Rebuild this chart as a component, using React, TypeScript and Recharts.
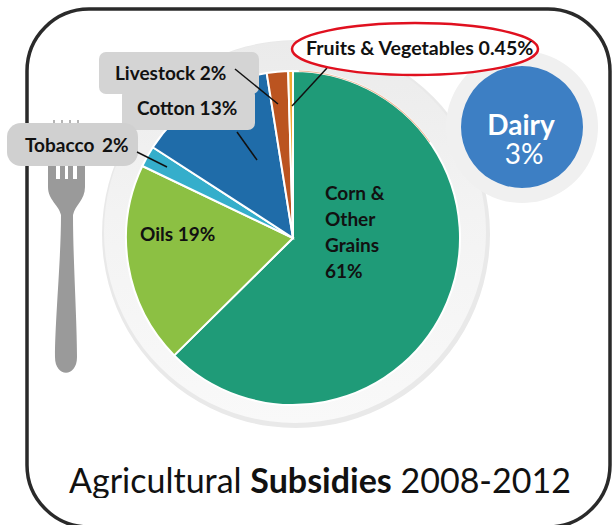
import { PieChart, Pie, Cell } from "recharts";

const categories = ["Corn & Other Grains", "Oils", "Tobacco", "Cotton", "Livestock", "Fruits & Vegetables"];
const shares = [61, 19, 2, 13, 2, 0.45];
const COLORS = ["#1f9b78", "#8cc043", "#35aecb", "#1f6ca9", "#bb5420", "#f0a830"];
const dairyShare = [3];

const data = categories.map((name, i) => ({ name, value: shares[i] }));
const dairyData = dairyShare.map((value) => ({ name: "Dairy", value }));
const plateData = [{ name: "plate", value: 1 }];

const FONT = "Lato, Carlito, sans-serif";

function Frame() {
  return (
    <svg width={613} height={525} style={{ position: "absolute", left: 0, top: 0 }}>
      <defs>
        <linearGradient id="plateFill" x1="0" y1="0" x2="0" y2="1">
          <stop offset="0%" stopColor="#ebebeb" />
          <stop offset="45%" stopColor="#f3f3f3" />
          <stop offset="100%" stopColor="#f9f9f9" />
        </linearGradient>
      </defs>
      <rect x={27} y={9} width={583} height={518} rx={62} fill="#fff" stroke="#2a2a2a" strokeWidth={3.5} />
      {/* fork */}
      <path
        d="M48 164 H85 V187 C85 200 75 205 73 215 C73 260 77 320 77 357 C77 378 55 378 55 357 C55 320 61 260 61 215 C59 205 48 200 48 187 Z"
        fill="#9a9a9a"
      />
      <rect x={53} y={120} width={2} height={4} fill="#b5b5b5" />
      <rect x={61} y={120} width={2} height={4} fill="#b5b5b5" />
      <rect x={69} y={120} width={2} height={4} fill="#b5b5b5" />
      <rect x={77} y={120} width={2} height={4} fill="#b5b5b5" />
      <rect x={56} y={164} width={4} height={15} fill="#fff" />
      <rect x={65} y={164} width={3} height={15} fill="#fff" />
      <rect x={73} y={164} width={4} height={15} fill="#fff" />
    </svg>
  );
}

function Callouts() {
  const label = (i: number) => `${categories[i]} ${shares[i]}%`;
  return (
    <svg width={613} height={525} style={{ position: "absolute", left: 0, top: 0 }} fontFamily={FONT} fill="#111">
      <rect x={99} y={52} width={160} height={42} rx={7} fill="#d4d4d4" />
      <rect x={122} y={88} width={133} height={42} rx={7} fill="#d4d4d4" />
      <rect x={7} y={123} width={131} height={43} rx={14} fill="#d0d0d0" />
      <g stroke="#111" strokeWidth={1.5}>
        <line x1={235} y1={69} x2={278} y2={104} />
        <line x1={237} y1={132} x2={257} y2={160} />
        <line x1={137} y1={152} x2={167} y2={167} />
        <line x1={327} y1={68} x2={292} y2={106} />
      </g>
      <ellipse cx={415} cy={49} rx={123} ry={26} fill="#fff" stroke="#e0101f" strokeWidth={2.5} />
      <g fontWeight={700} fontSize={19}>
        <text x={115} y={80}>{label(4)}</text>
        <text x={137} y={115}>{label(3)}</text>
        <text x={25} y={152}>
          {categories[2]}
          <tspan x={102}>{shares[2]}%</tspan>
        </text>
        <text x={140} y={241}>{label(1)}</text>
        <text x={306} y={55} fontSize={19.6}>{label(5)}</text>
        <text x={325} y={200}>Corn &amp;</text>
        <text x={325} y={226}>Other</text>
        <text x={325} y={252}>Grains</text>
        <text x={325} y={278}>{shares[0]}%</text>
      </g>
      <g fill="#fff" textAnchor="middle" fontSize={28}>
        <text x={521} y={135} fontWeight={700}>Dairy</text>
        <text x={524} y={164}>{dairyShare[0]}%</text>
      </g>
      <text x={69} y={493} fontSize={34} fill="#111">
        Agricultural <tspan fontWeight={700}>Subsidies</tspan> 2008-2012
      </text>
      {/* descenders are cut off in the source image */}
      <rect x={60} y={498} width={190} height={12} fill="#fff" />
    </svg>
  );
}

export default function App() {
  return (
    <div style={{ position: "absolute", left: 0, top: 0, width: 613, height: 525, overflow: "hidden", background: "#fff" }}>
      <Frame />
      <div style={{ position: "absolute", left: 0, top: 0 }}>
        <PieChart width={613} height={525} margin={{ top: 0, right: 0, bottom: 0, left: 0 }}>
          <Pie data={plateData} dataKey="value" cx={296} cy={234} outerRadius={194} fill="#e9e9e9" stroke="none" isAnimationActive={false} />
          <Pie data={plateData} dataKey="value" cx={295} cy={232} outerRadius={191} fill="url(#plateFill)" stroke="none" isAnimationActive={false} />
          <Pie
            data={data}
            dataKey="value"
            cx={293}
            cy={238}
            outerRadius={167}
            startAngle={90}
            endAngle={-270}
            stroke="#fff"
            strokeWidth={2}
            isAnimationActive={false}
          >
            {data.map((entry, index) => (
              <Cell key={`cell-${index}`} fill={COLORS[index % COLORS.length]} />
            ))}
          </Pie>
          <Pie data={plateData} dataKey="value" cx={293} cy={238} innerRadius={166.5} outerRadius={167.5} startAngle={88} endAngle={35} fill="#eebb9c" stroke="none" isAnimationActive={false} />
          <Pie data={plateData} dataKey="value" cx={522} cy={127} outerRadius={76} fill="#f0f0f0" stroke="none" isAnimationActive={false} />
          <Pie data={dairyData} dataKey="value" cx={522} cy={127} outerRadius={61} fill="#3d7fc4" stroke="none" isAnimationActive={false} />
        </PieChart>
      </div>
      <Callouts />
    </div>
  );
}
